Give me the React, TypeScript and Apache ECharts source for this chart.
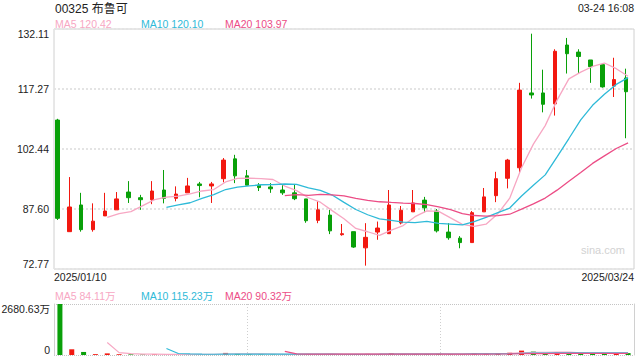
import React, { useEffect, useRef } from "react";
import * as echarts from "echarts";

const title = "00325 布鲁可";
const timeText = "03-24 16:08";
const watermark = "sina.com";

const dates = [
  "2025/01/10", "2025/01/13", "2025/01/14", "2025/01/15", "2025/01/16", "2025/01/17",
  "2025/01/20", "2025/01/21", "2025/01/22", "2025/01/23", "2025/01/24", "2025/01/27", "2025/01/28",
  "2025/02/03", "2025/02/04", "2025/02/05", "2025/02/06", "2025/02/07",
  "2025/02/10", "2025/02/11", "2025/02/12", "2025/02/13", "2025/02/14",
  "2025/02/17", "2025/02/18", "2025/02/19", "2025/02/20", "2025/02/21",
  "2025/02/24", "2025/02/25", "2025/02/26", "2025/02/27", "2025/02/28",
  "2025/03/03", "2025/03/04", "2025/03/05", "2025/03/06", "2025/03/07",
  "2025/03/10", "2025/03/11", "2025/03/12", "2025/03/13", "2025/03/14",
  "2025/03/17", "2025/03/18", "2025/03/19", "2025/03/20", "2025/03/21", "2025/03/24",
];

const opens = [
  109.6, 82.0, 88.6, 82.5, 85.9, 87.4, 91.8, 90.4, 89.9, 92.3,
  90.25, 91.6, 93.8, 93.3, 95.1, 100.0, 95.8, 93.5, 93.05, 92.3,
  91.6, 90.1, 84.8, 86.1, 81.25, 82.0, 78.0, 81.9, 81.5, 84.15,
  86.9, 89.8, 87.1, 81.9, 80.4, 79.3, 86.9, 90.9, 95.2, 97.8,
  116.3, 116.3, 113.6, 128.15, 126.4, 124.45, 123.3, 118.0, 120.0,
];
const closes = [
  85.3, 88.1, 82.5, 84.6, 87.1, 90.1, 90.4, 89.9, 92.05, 90.25,
  91.3, 93.3, 93.4, 93.8, 99.7, 95.8, 93.5, 92.9, 92.6, 91.6,
  90.15, 84.7, 87.4, 82.2, 81.5, 78.2, 80.6, 82.9, 88.6, 87.3,
  89.1, 87.9, 82.2, 80.5, 79.3, 86.7, 90.6, 95.1, 99.7, 117.0,
  115.8, 113.5, 126.6, 126.0, 125.3, 122.8, 117.8, 119.6, 116.6,
];
const lows = [
  84.9, 82.0, 82.0, 82.0, 85.9, 87.4, 89.1, 87.4, 88.8, 89.0,
  89.5, 91.6, 90.5, 89.1, 94.2, 94.0, 93.5, 92.05, 91.6, 91.1,
  89.8, 84.2, 84.1, 81.4, 81.0, 78.0, 73.6, 80.0, 81.5, 83.8,
  86.9, 86.8, 81.8, 80.0, 77.9, 79.3, 86.9, 89.3, 92.7, 96.5,
  114.9, 111.5, 110.7, 121.1, 121.2, 118.8, 117.6, 115.3, 105.1,
];
const highs = [
  109.9, 95.5, 91.6, 89.0, 91.6, 91.8, 94.5, 91.1, 94.5, 97.25,
  93.2, 95.3, 94.3, 94.3, 100.2, 101.0, 97.25, 94.0, 94.0, 93.6,
  93.8, 90.1, 89.5, 87.4, 83.9, 82.0, 84.1, 84.5, 92.3, 88.35,
  92.3, 90.6, 87.6, 84.1, 80.9, 87.1, 92.8, 96.8, 100.0, 118.8,
  130.95, 122.05, 127.1, 129.9, 127.1, 124.45, 123.3, 125.0, 122.3,
];
// volume in 万 shares
const volumes = [
  2680.63, 300, 160, 45, 85, 40, 35, 30, 35, 30,
  40, 45, 30, 35, 110, 60, 40, 30, 25, 30,
  30, 55, 45, 50, 30, 45, 60, 40, 90, 50,
  55, 40, 60, 45, 40, 90, 70, 85, 119.1, 230,
  180, 110, 130, 81.75, 70, 65, 90, 95, 100.55,
];

const yTickLabels = ["72.77", "87.60", "102.44", "117.27", "132.11"];
const priceMin = 72.77;
const priceMax = 132.11;
const volMax = 2680.63;
const maPeriods = [5, 10, 20];

const UP = "#f21810";
const DOWN = "#09a009";
const MA_COLORS = ["#f7a7c3", "#2fbad8", "#ec4d86"];
const FONT = "'Liberation Sans', Arial, 'Noto Sans CJK SC', sans-serif";

function movingAvg(arr: number[], n: number): (number | string)[] {
  return arr.map((_, i) => {
    if (i < n - 1) return "-";
    let s = 0;
    for (let k = i - n + 1; k <= i; k++) s += arr[k];
    return s / n;
  });
}

export default function App() {
  const ref = useRef<HTMLDivElement>(null);

  useEffect(() => {
    if (!ref.current) return;
    const chart = echarts.init(ref.current, undefined, { renderer: "svg" });

    const candleData = dates.map((_, i) => [opens[i], closes[i], lows[i], highs[i]]);
    const priceMAs = maPeriods.map((p) => movingAvg(closes, p));
    const volMAs = maPeriods.map((p) => movingAvg(volumes, p));
    const volData = volumes.map((v, i) => ({
      value: v,
      itemStyle: { color: closes[i] >= opens[i] ? UP : DOWN },
    }));
    const last = dates.length - 1;

    const legendX = [55, 141, 225];
    const graphics: any[] = [
      {
        type: "text", x: 55, y: 8.5,
        style: { text: title, fontSize: 12, fontFamily: FONT, fill: "#222", align: "left", verticalAlign: "middle" },
      },
      {
        type: "text", x: 634, y: 8,
        style: { text: timeText, fontSize: 10.5, fontFamily: FONT, fill: "#222", align: "right", verticalAlign: "middle" },
      },
      {
        type: "text", x: 603, y: 249.5,
        style: { text: watermark, fontSize: 11, fontFamily: FONT, fill: "#d2d2d2", align: "center", verticalAlign: "middle" },
      },
    ];
    maPeriods.forEach((p, k) => {
      const pv = priceMAs[k][last] as number;
      const vv = volMAs[k][last] as number;
      graphics.push({
        type: "text", x: legendX[k], y: 23.5,
        style: { text: `MA${p} ${pv.toFixed(2)}`, fontSize: 10.5, fontFamily: FONT, fill: MA_COLORS[k], align: "left", verticalAlign: "middle" },
      });
      graphics.push({
        type: "text", x: legendX[k], y: 295.5,
        style: { text: `MA${p} ${vv.toFixed(2)}万`, fontSize: 10.5, fontFamily: FONT, fill: MA_COLORS[k], align: "left", verticalAlign: "middle" },
      });
    });

    const dotted = { color: "#e4e4e4", width: 2, type: [2, 2] as any };
    const fineDotted = { color: "#c4c4c4", width: 1, type: [1, 1] as any };

    const option: any = {
      animation: false,
      backgroundColor: "#fff",
      textStyle: { fontFamily: FONT },
      grid: [
        { left: 54, right: 6, top: 29, height: 240, show: true, borderColor: "#d0d0d0", borderWidth: 1, backgroundColor: "transparent", outerBoundsMode: "none", containLabel: false },
        { left: 54, right: 6, top: 304, height: 51, outerBoundsMode: "none", containLabel: false },
        { left: 51.5, right: 8, top: 29, height: 240, outerBoundsMode: "none", containLabel: false },
      ],
      xAxis: [
        { type: "category", gridIndex: 0, data: dates, boundaryGap: true, show: false },
        {
          type: "category", gridIndex: 0, data: [dates[0], dates[last]], boundaryGap: false, position: "bottom",
          axisLine: { show: false }, axisTick: { show: false }, splitLine: { show: false },
          axisLabel: { show: true, interval: 0, margin: 3, fontSize: 10.5, color: "#222", fontFamily: FONT, alignMinLabel: "left", alignMaxLabel: "right" },
        },
        { type: "category", gridIndex: 1, data: dates, boundaryGap: true, show: false },
        {
          type: "value", gridIndex: 1, min: 0, max: 3, interval: 1,
          axisLine: { show: false }, axisTick: { show: false }, axisLabel: { show: false },
          splitLine: { show: true, lineStyle: { color: "#cfcfcf", width: 1, type: [1, 2] } },
        },
        { type: "category", gridIndex: 2, data: dates, boundaryGap: true, show: false },
      ],
      yAxis: [
        { type: "value", gridIndex: 0, min: priceMin, max: priceMax, show: false, position: "right" },
        {
          type: "value", gridIndex: 0, min: 0, max: 4, interval: 1, position: "left", offset: 0,
          axisLine: { show: false }, axisTick: { show: false },
          axisLabel: {
            margin: 5, fontSize: 10.5, color: "#222", fontFamily: FONT,
            formatter: (v: number) => yTickLabels[Math.round(v)],
            verticalAlignMinLabel: "bottom", verticalAlignMaxLabel: "top",
          },
          splitLine: { show: true, lineStyle: dotted },
        },
        {
          type: "value", gridIndex: 1, min: 0, max: volMax, interval: volMax, position: "left", offset: 0,
          axisLine: { show: true, lineStyle: { color: "#d0d0d0" } }, axisTick: { show: false },
          axisLabel: {
            margin: 4, fontSize: 10.5, color: "#222", fontFamily: FONT,
            formatter: (v: number) => (v === 0 ? "0" : `${v.toFixed(2)}万`),
            verticalAlignMinLabel: "bottom", verticalAlignMaxLabel: "top",
          },
          splitLine: { show: true, lineStyle: fineDotted },
        },
        {
          type: "value", gridIndex: 1, min: 0, max: 1, position: "right", offset: 0,
          axisLine: { show: true, onZero: false, lineStyle: { color: "#d0d0d0" } },
          axisTick: { show: false }, axisLabel: { show: false }, splitLine: { show: false },
        },
        { type: "value", gridIndex: 2, min: priceMin, max: priceMax, show: false },
      ],
      series: [
        {
          type: "candlestick", xAxisIndex: 4, yAxisIndex: 4, data: candleData, barWidth: 4,
          itemStyle: { color: UP, color0: DOWN, borderColor: UP, borderColor0: DOWN, borderWidth: 1 },
        },
        ...maPeriods.map((p, k) => ({
          type: "line", name: `MA${p}`, xAxisIndex: 0, yAxisIndex: 0, data: priceMAs[k],
          showSymbol: false, symbol: "none", lineStyle: { color: MA_COLORS[k], width: 1.3 },
        })),
        { type: "bar", xAxisIndex: 2, yAxisIndex: 2, data: volData, barWidth: 5 },
        ...maPeriods.map((p, k) => ({
          type: "line", name: `VMA${p}`, xAxisIndex: 2, yAxisIndex: 2, data: volMAs[k],
          showSymbol: false, symbol: "none", lineStyle: { color: MA_COLORS[k], width: 1.2 },
        })),
      ],
      graphic: graphics,
    };

    chart.setOption(option);
    return () => chart.dispose();
  }, []);

  return <div ref={ref} style={{ width: 640, height: 360, position: "absolute", left: 0, top: 0 }} />;
}
